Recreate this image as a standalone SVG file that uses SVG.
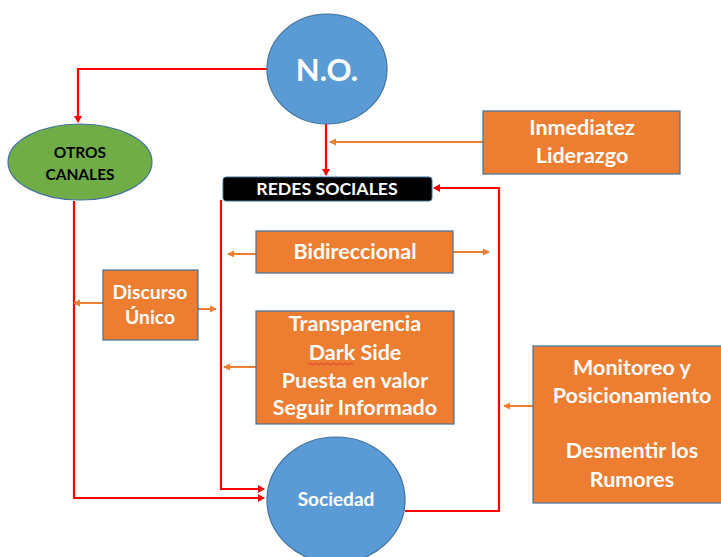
<svg xmlns="http://www.w3.org/2000/svg" width="721" height="557" viewBox="0 0 721 557">
<style>
.blue{fill:#5B9BD5;stroke:#41719C;stroke-width:1.2}
.orange{fill:#ED7D31;stroke:#41719C;stroke-width:1.2}
.green{fill:#70AD47;stroke:#41719C;stroke-width:1.2}
.t{font-family:Lato,"Liberation Sans",sans-serif;font-weight:bold;fill:#fff;text-anchor:middle}
.b{font-size:21.5px}
.red{fill:none;stroke:#FF0000;stroke-width:2.2}
.or{fill:none;stroke:#ED7D31;stroke-width:2}
</style>
<defs>
<marker id="ar" markerWidth="8" markerHeight="8" refX="6" refY="4" orient="auto" markerUnits="userSpaceOnUse"><path d="M0,0 L7,4 L0,8 z" fill="#FF0000"/></marker>
<marker id="ao" markerWidth="8" markerHeight="8" refX="6" refY="4" orient="auto" markerUnits="userSpaceOnUse"><path d="M0,0.5 L7,4 L0,7.5 z" fill="#ED7D31"/></marker>
</defs>
<rect width="721" height="557" fill="#fff"/>
<g id="connectors">
<path class="red" d="M267,69 H78 V122" marker-end="url(#ar)"/>
<path class="red" d="M326,124 V175" marker-end="url(#ar)"/>
<path class="red" d="M405,511 H499 V188 H434" marker-end="url(#ar)"/>
<path class="red" d="M221,200 V489 H264" marker-end="url(#ar)"/>
<path class="red" d="M74,201 V498 H264" marker-end="url(#ar)"/>
<path class="or" d="M483,142 H330" marker-end="url(#ao)"/>
<path class="or" d="M256,254 H228" marker-end="url(#ao)"/>
<path class="or" d="M453,252 H489" marker-end="url(#ao)"/>
<path class="or" d="M103,303 H74" marker-end="url(#ao)"/>
<path class="or" d="M198,309 H216" marker-end="url(#ao)"/>
<path class="or" d="M256,367 H224" marker-end="url(#ao)"/>
<path class="or" d="M533,406 H504" marker-end="url(#ao)"/>
</g>
<g id="no">
<ellipse class="blue" cx="327" cy="69" rx="60" ry="55"/>
<text class="t" x="327" y="81" font-size="31">N.O.</text>
</g>
<g id="otros">
<ellipse class="green" cx="80" cy="162" rx="72" ry="38"/>
<text class="t" x="80" y="158" font-size="15.5" style="fill:#000">OTROS</text>
<text class="t" x="80" y="180" font-size="15.5" style="fill:#000">CANALES</text>
</g>
<g id="redes">
<rect x="223" y="177" width="209" height="24" rx="3" fill="#000" stroke="#41719C" stroke-width="1"/>
<text class="t" x="327" y="195" font-size="17.7">REDES SOCIALES</text>
</g>
<g id="inmediatez">
<rect class="orange" x="483" y="111" width="197" height="63"/>
<text class="t b" x="582" y="135">Inmediatez</text>
<text class="t b" x="582" y="163">Liderazgo</text>
</g>
<g id="bidireccional">
<rect class="orange" x="256" y="231" width="197" height="42"/>
<text class="t b" x="355" y="259">Bidireccional</text>
</g>
<g id="discurso">
<rect class="orange" x="103" y="270" width="95" height="70"/>
<text class="t" x="150" y="299" font-size="19.3">Discurso</text>
<text class="t" x="150" y="324" font-size="19.3">Único</text>
</g>
<g id="transparencia">
<rect class="orange" x="256" y="311" width="198" height="113"/>
<text class="t b" x="355" y="331">Transparencia</text>
<text class="t b" x="355" y="360">Dark Side</text>
<path d="M308,364 q1.5,-2 3,0 t3,0 t3,0 t3,0 t3,0 t3,0 t3,0 t3,0 t3,0 t3,0 t3,0 t3,0 t3,0 t3,0 t3,0" fill="none" stroke="#E03030" stroke-width="0.8"/>
<text class="t b" x="355" y="388">Puesta en valor</text>
<text class="t b" x="355" y="415">Seguir Informado</text>
</g>
<g id="monitoreo">
<rect class="orange" x="533" y="346" width="190" height="157"/>
<text class="t b" x="632" y="375">Monitoreo y</text>
<text class="t b" x="632" y="403">Posicionamiento</text>
<text class="t b" x="632" y="458">Desmentir los</text>
<text class="t b" x="632" y="487">Rumores</text>
</g>
<g id="sociedad">
<ellipse class="blue" cx="336" cy="500" rx="69" ry="63"/>
<text class="t" x="336" y="506" font-size="19">Sociedad</text>
</g>
</svg>
